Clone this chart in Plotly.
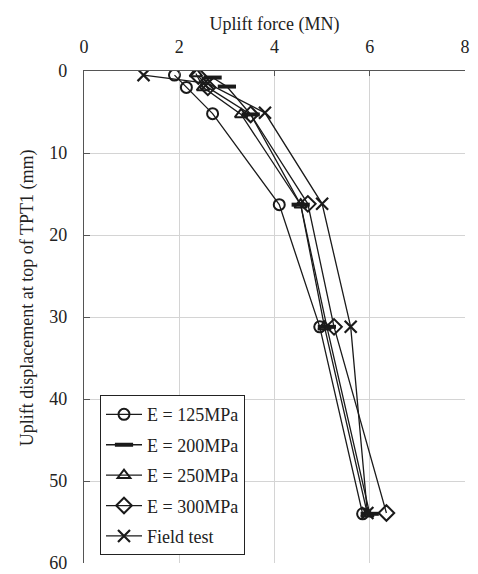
import plotly.graph_objects as go

# Uplift force (MN) and displacement (mm)
disp_125 = [0.5, 2.0, 5.2, 16.3, 31.2, 54.0]
force_125 = [1.9, 2.15, 2.7, 4.1, 4.95, 5.85]

disp_200 = [0.8, 1.9, 5.3, 16.3, 31.2, 54.0]
force_200 = [2.7, 3.0, 3.5, 4.55, 5.1, 6.0]

disp_250 = [0.3, 2.0, 5.3, 16.3, 31.2, 54.0]
force_250 = [2.35, 2.5, 3.3, 4.55, 5.05, 5.95]

disp_300 = [0.6, 2.0, 5.3, 16.2, 31.2, 53.9]
force_300 = [2.4, 2.6, 3.5, 4.7, 5.25, 6.35]

disp_field = [0.5, 1.5, 5.1, 16.2, 31.2, 53.9]
force_field = [1.25, 2.6, 3.8, 5.0, 5.6, 5.95]

series_names = ["E = 125MPa", "E = 200MPa", "E = 250MPa", "E = 300MPa", "Field test"]
x_ticks = [0, 2, 4, 6, 8]
y_ticks = [0, 10, 20, 30, 40, 50, 60]
y_title = "Uplift displacement at top of TPT1 (mm)"
x_title = "Uplift force (MN)"

FONT = "Liberation Serif"
BLACK = "#1a1a1a"

data = [
    (force_125, disp_125, "circle-open", 11, 2),
    (force_200, disp_200, "line-ew", 13, 4),
    (force_250, disp_250, "triangle-up-open", 11, 2),
    (force_300, disp_300, "diamond-open", 12, 2),
    (force_field, disp_field, "x-thin-open", 12, 2.2),
]

fig = go.Figure()
for i, (fx, dy, sym, sz, lw) in enumerate(data):
    fig.add_trace(go.Scatter(
        x=fx, y=dy, mode="lines+markers", name=series_names[i],
        legendgroup=f"g{i}",
        line=dict(color=BLACK, width=1.3),
        marker=dict(symbol=sym, size=sz, color=BLACK,
                    line=dict(color=BLACK, width=lw)),
    ))

# page body has an 8px margin, so the figure is drawn 8px right/down
fig.update_layout(
    width=470, height=566,
    margin=dict(l=76, r=13, t=63, b=11),
    paper_bgcolor="white", plot_bgcolor="white",
    font=dict(family=FONT, size=18, color="#222222"),
    showlegend=True,
    legend=dict(
        x=0.042, y=0.016, xanchor="left", yanchor="bottom",
        bordercolor="#222222", borderwidth=1, bgcolor="white",
        font=dict(family=FONT, size=18, color="#222222"),
        tracegroupgap=4, itemwidth=36,
    ),
    annotations=[dict(
        text=y_title, textangle=-90, xref="paper", yref="paper",
        x=-0.15, y=0.54, xanchor="center", yanchor="middle",
        showarrow=False, font=dict(family=FONT, size=18, color="#222222"),
    )],
)
fig.update_xaxes(
    side="top", range=[0, 8], tickvals=x_ticks, automargin=False,
    title=dict(text=x_title, standoff=1, font=dict(size=18)),
    showgrid=True, gridcolor="#d4d4d4", gridwidth=1,
    showline=True, linecolor="#555555", linewidth=1.2,
    ticks="inside", ticklen=5, tickcolor="#555555",
    ticklabelstandoff=10, zeroline=False,
)
fig.update_yaxes(
    range=[60, 0], tickvals=y_ticks, automargin=False,
    showgrid=True, gridcolor="#d4d4d4", gridwidth=1,
    showline=True, linecolor="#555555", linewidth=1.2,
    ticks="inside", ticklen=6, tickcolor="#555555",
    ticklabelstandoff=12, zeroline=False,
)

fig.write_html("out.html")
